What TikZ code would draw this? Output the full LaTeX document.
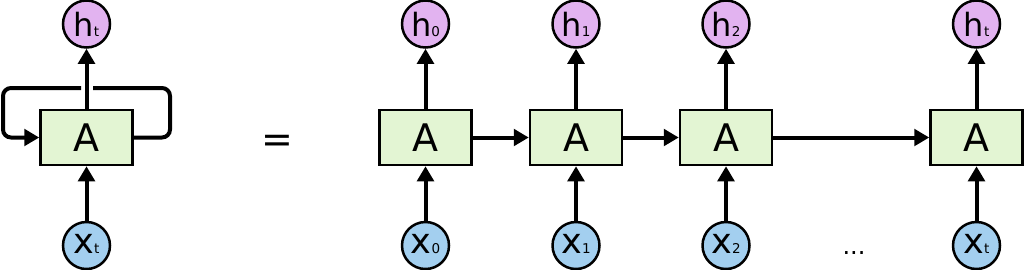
\documentclass[tikz,border=0pt]{standalone}
\usepackage{fontspec}
\setmainfont{DejaVu Sans}
\usetikzlibrary{arrows.meta}
\definecolor{hfill}{HTML}{E2B3F0}
\definecolor{xfill}{HTML}{A3CFEF}
\definecolor{afill}{HTML}{E3F5D3}
\newcommand{\sbs}[1]{{\fontsize{13.5}{13.5}\selectfont #1}}
\begin{document}
\begin{tikzpicture}[x=1pt,y=-1pt,
  cell/.style={draw=black, line width=2.5pt, fill=afill, minimum width=92pt, minimum height=55pt, inner sep=0pt, font=\fontsize{38}{38}\selectfont},
  hnode/.style={circle, draw=black, line width=2.5pt, fill=hfill, minimum size=47pt, inner sep=0pt, text height=24pt, text depth=0pt, font=\fontsize{32}{32}\selectfont},
  xnode/.style={circle, draw=black, line width=2.5pt, fill=xfill, minimum size=47pt, inner sep=0pt, text height=15pt, text depth=0pt, font=\fontsize{35}{35}\selectfont},
  wire/.style={line width=4pt},
  conn/.style={line width=4pt, -{Triangle[length=15pt,width=16.5pt]}},
]
\useasboundingbox (0,0) rectangle (1024,269);
% folded
\node[cell] (L) at (86.5,137.5) {A};
\node[hnode] (hL) at (86.5,24) {h\sbs{t}};
\node[xnode] (xL) at (86.5,245.5) {x\sbs{t}};
\draw[conn] (L) -- (hL);
\draw[conn] (xL) -- (L);
\coordinate (gapR) at (93,88);
\coordinate (gapL) at (81,88);
\draw[wire, rounded corners=8pt] (L.east) -- (170,137.5) -- (170,88) -- (gapR);
\draw[conn, rounded corners=8pt] (gapL) -- (3,88) -- (3,137.5) -- (L.west);
% equals
\node[font=\fontsize{38}{38}\selectfont, anchor=base, inner sep=0pt] (eq) at (277.5,152) {=};
% unrolled
\foreach \i/\cx/\s in {0/425.5/0, 1/576/1, 2/726/2, 3/976.5/t}{
  \node[cell] (A\i) at (\cx,137.5) {A};
  \node[hnode] (h\i) at (\cx,24) {h\sbs{\s}};
  \node[xnode] (x\i) at (\cx,245.5) {x\sbs{\s}};
  \draw[conn] (A\i) -- (h\i);
  \draw[conn] (x\i) -- (A\i);
}
\draw[conn] (A0) -- (A1);
\draw[conn] (A1) -- (A2);
\draw[conn] (A2) -- (A3);
\node[font=\fontsize{24}{24}\selectfont, anchor=base, inner sep=0pt] (dots) at (854,254.5) {...};
\end{tikzpicture}
\end{document}
